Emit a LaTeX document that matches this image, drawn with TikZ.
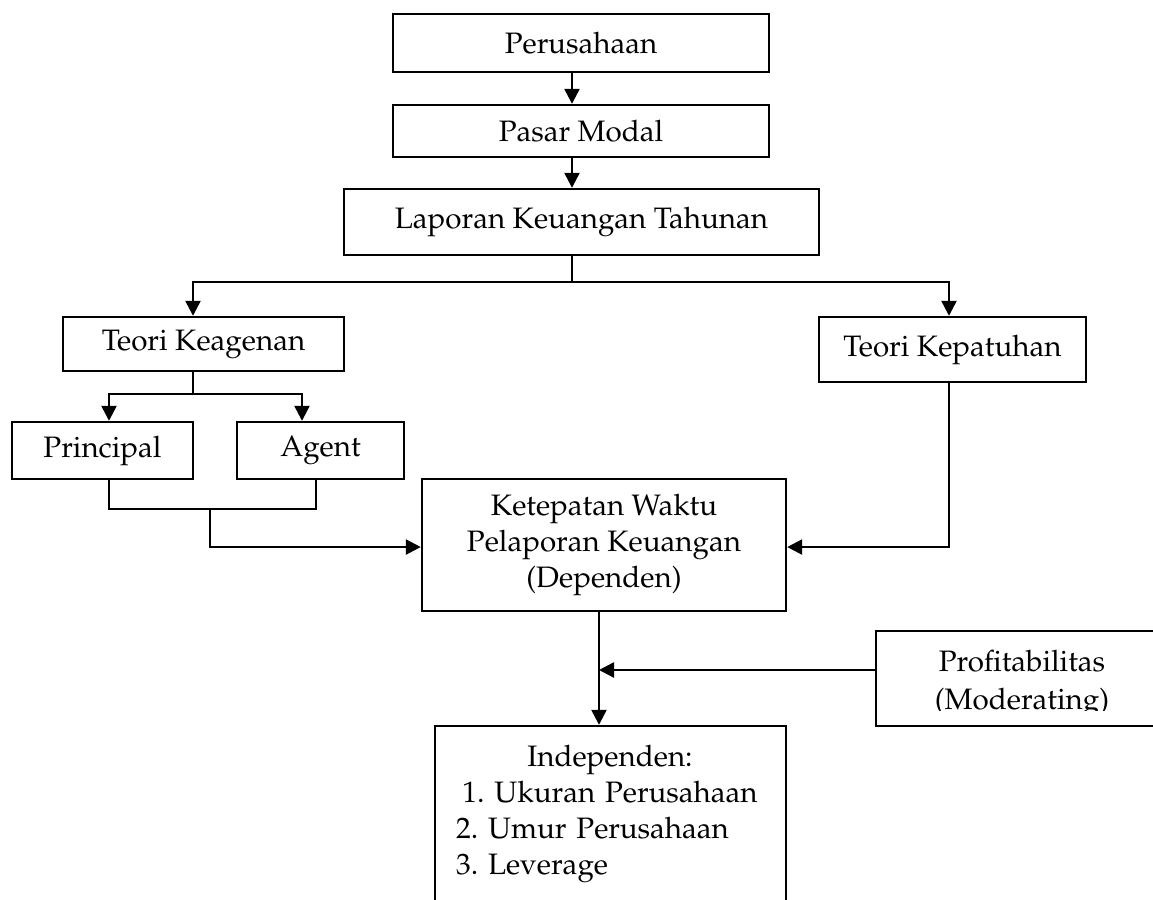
\documentclass[tikz,border=0pt]{standalone}
\usepackage[T1]{fontenc}
\usepackage{mathpazo}
\usetikzlibrary{arrows.meta}
\frenchspacing

\begin{document}
\begin{tikzpicture}[x=0.44pt, y=-0.44pt,
    teks/.style={inner sep=0pt, font=\fontsize{13}{15.8}\selectfont, align=center},
    kotak/.style={teks, draw, line width=1.05pt},
    garis/.style={line width=1.05pt},
    panah/.style={line width=1.05pt, -{Triangle[length=6.6pt, width=6.6pt]}}]
  \useasboundingbox (0,0) rectangle (1153,900);
  \clip (0,0) rectangle (1153,900);
  % kotak-kotak
  \node[kotak, minimum width=165.44pt, minimum height=25.52pt] (per) at (581,43) {Perusahaan};
  \node[kotak, minimum width=165.44pt, minimum height=22.88pt] (pasar) at (581,131) {Pasar Modal};
  \node[kotak, minimum width=209pt, minimum height=29.04pt] (lap) at (581.5,222) {Laporan Keuangan Tahunan};
  \node[kotak, minimum width=123.64pt, minimum height=23.76pt] (keag) at (203.5,344) {Teori Keagenan};
  \node[kotak, minimum width=117.48pt, minimum height=28.6pt] (kepat) at (952.5,349.5) {Teori Kepatuhan};
  \node[kotak, minimum width=79.64pt, minimum height=25.08pt] (princ) at (102.5,450.5) {Principal};
  \node[kotak, minimum width=73.48pt, minimum height=25.08pt] (agent) at (320.5,450.5) {Agent};
  \node[kotak, minimum width=160.16pt, minimum height=58.08pt] (ketep) at (604,545) {Ketepatan Waktu\\Pelaporan Keuangan\\(Dependen)};
  \node[kotak, minimum width=142.56pt, minimum height=41.8pt] (profit) at (1038,678.5) {};
  \node[kotak, minimum width=154.44pt, minimum height=111.76pt] (indep) at (610.5,853) {};
  \begin{scope}
    \clip (876,631) rectangle (1153,711);
    \node[teks, font=\fontsize{13}{17}\selectfont] (proftxt) at (1022,684) {Profitabilitas\\(Moderating)};
  \end{scope}
  \node[teks, text width=135.5pt, align=left] (indeptxt) at (610,814) {{\centering Independen:\\1. Ukuran Perusahaan\par}2. Umur Perusahaan\\3. Leverage};
  % titik bantu
  \coordinate (sumbu) at (572,282);
  \coordinate (cab) at (193,394);
  \coordinate (p1) at (109,509);
  \coordinate (p2) at (316,509);
  \coordinate (p3) at (210,509);
  \coordinate (sb) at (599,670);
  % panah
  \draw[panah] (per.south -| sumbu) -- (pasar.north -| sumbu);
  \draw[panah] (pasar.south -| sumbu) -- (lap.north -| sumbu);
  \draw[garis] (lap.south -| sumbu) -- (sumbu);
  \draw[panah] (sumbu) -| ([xshift=-4.62pt]keag.north);
  \draw[panah] (sumbu) -| ([xshift=-1.54pt]kepat.north);
  \draw[garis] (keag.south -| cab) -- (cab);
  \draw[panah] (cab) -| ([xshift=2.86pt]princ.north);
  \draw[panah] (cab) -| ([xshift=-8.14pt]agent.north);
  \draw[garis] (princ.south -| p1) -- (p1) -- (p2) -- (agent.south -| p2);
  \draw[panah] (p3) |- ([yshift=-0.9pt]ketep.west);
  \draw[panah] ([xshift=-1.54pt]kepat.south) |- ([yshift=-0.9pt]ketep.east);
  \draw[panah] (ketep.south -| sb) -- (indep.north -| sb);
  \draw[panah] (profit.west |- sb) -- (sb);
\end{tikzpicture}
\end{document}
